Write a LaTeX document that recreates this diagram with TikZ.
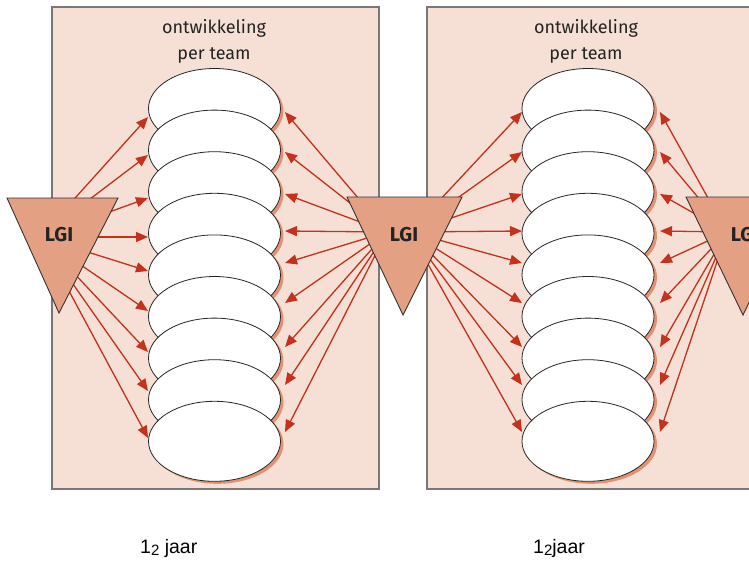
\documentclass[tikz,border=0pt]{standalone}
\usepackage{fontspec}
\setmainfont{Fira Sans}
\newfontfamily\arialf{Liberation Sans}
\usetikzlibrary{shapes.geometric,arrows.meta,shadows,calc}
\definecolor{panelc}{RGB}{246,224,213}
\definecolor{framec}{RGB}{120,120,120}
\definecolor{trific}{RGB}{228,160,130}
\definecolor{arrc}{RGB}{196,50,30}
\definecolor{shadc}{RGB}{226,146,114}
\definecolor{textc}{RGB}{35,35,35}
\tikzset{
  panelbox/.style={fill=panelc,draw=framec,line width=1.6pt},
  blob/.style={ellipse,draw=black!85,line width=0.8pt,fill=white,inner sep=0pt,
    minimum width=132pt,minimum height=80pt,
    drop shadow={shadow xshift=3pt,shadow yshift=-2.5pt,fill=shadc,opacity=1}},
  trishape/.style={fill=trific,draw=black!80,line width=0.9pt,line join=miter},
  lgitext/.style={font=\fontsize{20}{20}\selectfont,text=textc,inner sep=0pt},
  headtext/.style={font=\fontsize{18}{20}\selectfont,text=textc,anchor=base,inner sep=0pt},
  yeartext/.style={font=\arialf\fontsize{19.5}{20}\selectfont,anchor=base west,inner sep=0pt},
  arr/.style={draw=arrc,line width=1.3pt,-{Triangle[length=12pt,width=10pt]},fill=arrc}
}
\newcommand{\subtwo}{\raisebox{-2.5pt}{\fontsize{15}{15}\selectfont 2}}
\begin{document}
\begin{tikzpicture}[x=1pt,y=-1pt]
\clip (0,0) rectangle (749,560);
\fill[white] (0,0) rectangle (749,560);
% panels
\draw[panelbox] (52,7) rectangle (379,489);
\draw[panelbox] (427,7) rectangle (770,489);
% headings
\node[headtext] (h1a) at (214,33) {ontwikkeling};
\node[headtext] (h1b) at (214,59) {per team};
\node[headtext] (h2a) at (586,33) {ontwikkeling};
\node[headtext] (h2b) at (586,59) {per team};
% ellipses
\foreach \k in {1,...,9}{
  \node[blob] (e\k) at (214.5,{108.5+41.6*(\k-1)}) {};
}
\foreach \k in {1,...,9}{
  \node[blob] (f\k) at (588,{108.5+41.6*(\k-1)}) {};
}
% arrow origins
\coordinate (oA) at (40,237);
\coordinate (oBl) at (387,232);
\coordinate (oBr) at (410,232);
\coordinate (oC) at (727,232);
% arrow tips
\foreach \yy [count=\k] in {117,155,198,237,271,311,352,391,438}{
  \coordinate (aL\k) at (148,\yy);
}
\foreach \yy [count=\k] in {112,152,194,231,263,303,347,385,432}{
  \coordinate (aR\k) at (285,\yy);
  \coordinate (bL\k) at (522,\yy);
  \coordinate (bR\k) at (660,\yy);
}
\foreach \k in {1,...,9}{
  \draw[arr] (oA) -- (aL\k);
  \draw[arr] (oBl) -- (aR\k);
  \draw[arr] (oBr) -- (bL\k);
  \draw[arr] (oC) -- (bR\k);
}
% triangles
\draw[trishape] (7,198) -- (118,198) -- (59,313) -- cycle;
\draw[trishape] (347,197) -- (462,197) -- (403,315) -- cycle;
\draw[trishape] (686,197) -- (800,197) -- (743,315) -- cycle;
\node[lgitext] (lgiA) at (59,235) {\textbf{LGI}};
\node[lgitext] (lgiB) at (404,235) {\textbf{LGI}};
\node[lgitext] (lgiC) at (745,235) {\textbf{LGI}};
% years
\node[yeartext] (y1) at (140,553) {1\subtwo\ jaar};
\node[yeartext] (y2) at (533,553) {1\subtwo jaar};
\end{tikzpicture}
\end{document}
